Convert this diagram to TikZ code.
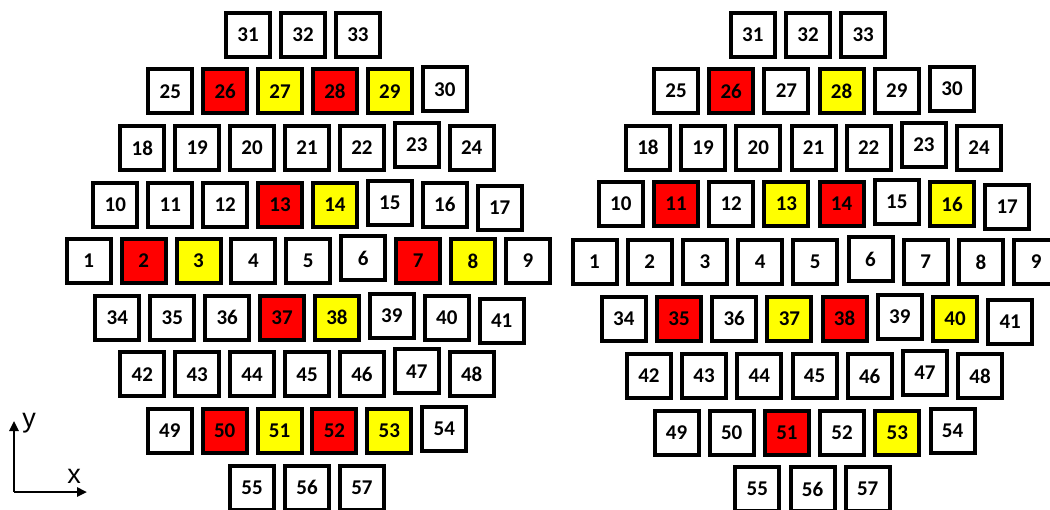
\documentclass[tikz,border=0pt]{standalone}
\usepackage{fontspec}
\setmainfont{Carlito}
\newfontfamily\axisfont{Liberation Sans}
\usetikzlibrary{arrows.meta}
\definecolor{cellred}{RGB}{255,0,0}
\definecolor{cellyellow}{RGB}{255,255,0}
\tikzset{
  cell/.style={draw=black, line width=4pt, minimum size=44pt, inner sep=0pt,
    fill=white, font=\fontsize{21}{24}\selectfont\bfseries, text=black},
  hot/.style={fill=cellred},
  warm/.style={fill=cellyellow},
  % left panel colours
  L26/.style={hot}, L28/.style={hot}, L13/.style={hot}, L2/.style={hot},
  L7/.style={hot}, L37/.style={hot}, L50/.style={hot}, L52/.style={hot},
  L27/.style={warm}, L29/.style={warm}, L14/.style={warm}, L3/.style={warm},
  L8/.style={warm}, L38/.style={warm}, L51/.style={warm}, L53/.style={warm},
  % right panel colours
  R26/.style={hot}, R11/.style={hot}, R14/.style={hot}, R35/.style={hot},
  R38/.style={hot}, R51/.style={hot},
  R28/.style={warm}, R13/.style={warm}, R16/.style={warm}, R37/.style={warm},
  R40/.style={warm}, R53/.style={warm},
  % small irregular vertical offsets
  o6/.style={yshift=3pt}, o15/.style={yshift=2pt}, o17/.style={yshift=-3pt},
  o23/.style={yshift=3pt}, o30/.style={yshift=2pt}, o39/.style={yshift=2pt},
  o41/.style={yshift=-3pt}, o47/.style={yshift=3pt}, o54/.style={yshift=2pt},
  axis/.style={line width=2.4pt, -{Triangle[length=10pt,width=9pt]}},
  axlabel/.style={font=\axisfont\fontsize{27}{30}\selectfont, inner sep=0pt, anchor=base},
}
% #1 panel, #2 y, #3 centre x, #4 pitch, #5 first number, #6 count
\newcommand\cellrow[6]{%
  \foreach \i in {1,...,#6}{%
    \pgfmathtruncatemacro\num{#5+\i-1}%
    \pgfmathsetmacro\xx{#3+(\i-(#6+1)/2)*#4}%
    \node[cell, #1\num/.try, o\num/.try] (#1\num) at (\xx,#2) {\num};
  }%
}
\begin{document}
\begin{tikzpicture}[x=1pt,y=-1pt]
\clip (0,0) rectangle (1050,509);
\fill[white] (0,0) rectangle (1050,509);
% left panel
\cellrow{L}{34.7}{303}{54.9}{31}{3}
\cellrow{L}{91.3}{307.5}{54.9}{25}{6}
\cellrow{L}{147.9}{307}{54.9}{18}{7}
\cellrow{L}{204.5}{307.5}{54.9}{10}{8}
\cellrow{L}{261.1}{308.3}{54.9}{1}{9}
\cellrow{L}{317.7}{309.5}{54.9}{34}{8}
\cellrow{L}{374.3}{307}{54.9}{42}{7}
\cellrow{L}{430.9}{307}{54.9}{49}{6}
\cellrow{L}{487.5}{307}{54.9}{55}{3}
% right panel
\cellrow{R}{35}{808}{55.2}{31}{3}
\cellrow{R}{91}{814}{55.2}{25}{6}
\cellrow{R}{147.5}{813.5}{55.2}{18}{7}
\cellrow{R}{204}{814}{55.2}{10}{8}
\cellrow{R}{262}{815.3}{55.2}{1}{9}
\cellrow{R}{318.5}{817}{55.2}{34}{8}
\cellrow{R}{376}{814.5}{55.2}{42}{7}
\cellrow{R}{433}{814.5}{55.2}{49}{6}
\cellrow{R}{489}{812.5}{55.2}{55}{3}
% axes
\coordinate (origin) at (14,492);
\coordinate (ytip) at (14,421);
\coordinate (xtip) at (87,492);
\draw[axis] (origin) -- (ytip);
\draw[axis] (origin) -- (xtip);
\node[axlabel] (ylab) at (29,427.5) {y};
\node[axlabel] (xlab) at (74,483.3) {x};
\end{tikzpicture}
\end{document}
